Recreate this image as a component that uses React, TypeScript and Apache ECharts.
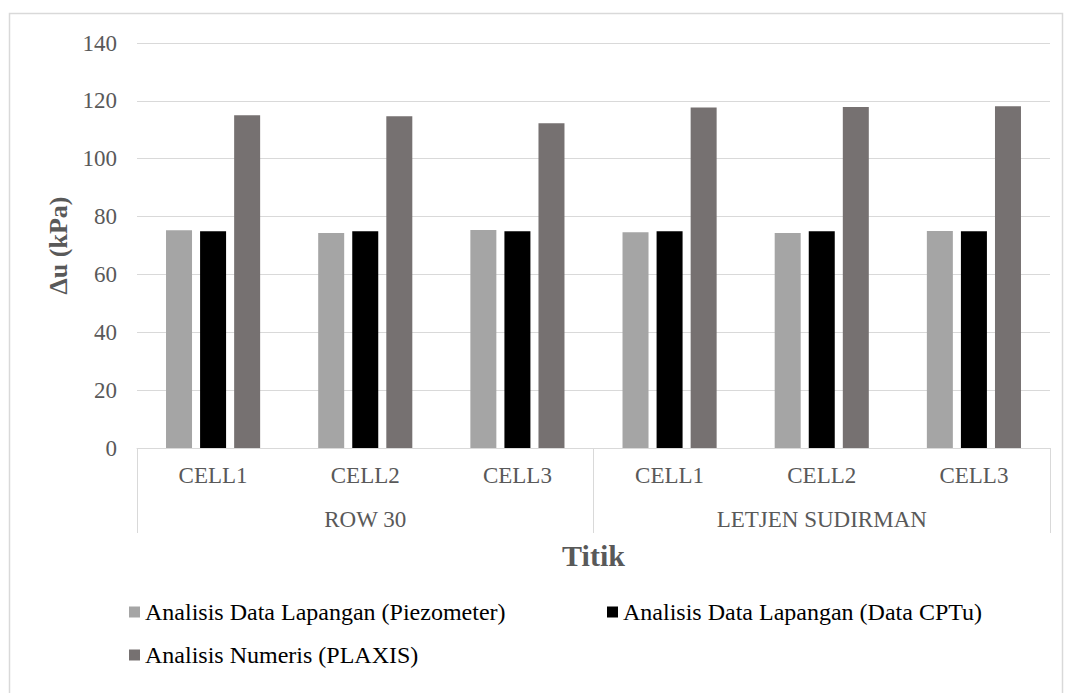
import React, { useEffect, useRef } from "react";
import * as echarts from "echarts";

// Category labels: individual cells, grouped by location
const cells = ["CELL1", "CELL2", "CELL3", "CELL1", "CELL2", "CELL3"];
const groups = ["ROW 30", "LETJEN SUDIRMAN"];

// Excess pore pressure Δu (kPa) per cell
const piezometer = [75.3, 74.3, 75.4, 74.6, 74.3, 75.0];
const cptu = [74.9, 74.9, 74.9, 74.9, 74.9, 74.9];
const plaxis = [115.0, 114.7, 112.3, 117.7, 117.9, 118.1];

const seriesNames = [
  "Analisis Data Lapangan (Piezometer)",
  "Analisis Data Lapangan (Data CPTu)",
  "Analisis Numeris (PLAXIS)",
];
const seriesColors = ["#a5a5a5", "#000000", "#767171"];

const yTicks = { min: 0, max: 140, interval: 20 };

const FONT = "'Liberation Serif', 'Times New Roman', serif";
const GRID_LINE = "#d9d9d9";
const LABEL = "#595959";

export default function App() {
  const ref = useRef<HTMLDivElement>(null);

  useEffect(() => {
    if (!ref.current) return;
    const chart = echarts.init(ref.current, undefined, { renderer: "svg" });

    const legendText = { fontSize: 24, color: "#000", fontFamily: FONT };
    const legendBase = {
      icon: "rect",
      itemWidth: 11,
      itemHeight: 11,
      itemGap: 0,
      selectedMode: false,
      textStyle: legendText,
      padding: 0,
    };

    chart.setOption({
      animation: false,
      backgroundColor: "#ffffff",
      textStyle: { fontFamily: FONT },
      grid: { left: 137, right: 15, top: 43, bottom: 245, containLabel: false },
      legend: [
        { ...legendBase, data: [seriesNames[0]], left: 129, top: 600 },
        { ...legendBase, data: [seriesNames[1]], left: 607, top: 600 },
        { ...legendBase, data: [seriesNames[2]], left: 129, top: 643 },
      ],
      xAxis: [
        {
          type: "category",
          data: cells,
          axisLine: { show: true, lineStyle: { color: GRID_LINE, width: 1 } },
          axisTick: { show: false },
          axisLabel: { fontSize: 23, color: LABEL, fontFamily: FONT, margin: 16 },
        },
        {
          type: "category",
          data: groups,
          position: "bottom",
          axisLine: { show: false },
          axisTick: {
            show: true,
            length: 85,
            lineStyle: { color: GRID_LINE, width: 1 },
          },
          axisLabel: { fontSize: 23, color: LABEL, fontFamily: FONT, margin: 60 },
          name: "Titik",
          nameLocation: "middle",
          nameGap: 92,
          nameTextStyle: {
            fontSize: 30,
            fontWeight: "bold",
            color: LABEL,
            fontFamily: FONT,
          },
        },
      ],
      yAxis: {
        type: "value",
        ...yTicks,
        axisLine: { show: false },
        axisTick: { show: false },
        splitLine: { lineStyle: { color: GRID_LINE, width: 1 } },
        axisLabel: { fontSize: 23, color: LABEL, fontFamily: FONT, margin: 20 },
        name: "Δu (kPa)",
        nameLocation: "middle",
        nameRotate: 90,
        nameGap: 63,
        nameTextStyle: {
          fontSize: 26,
          fontWeight: "bold",
          color: LABEL,
          fontFamily: FONT,
        },
      },
      series: [piezometer, cptu, plaxis].map((data, i) => ({
        name: seriesNames[i],
        type: "bar",
        xAxisIndex: 0,
        data,
        barWidth: 26,
        barGap: "31%",
        itemStyle: { color: seriesColors[i] },
      })),
      graphic: [
        {
          type: "rect",
          shape: { x: 9.5, y: 13.5, width: 1053, height: 700 },
          style: { fill: "none", stroke: GRID_LINE, lineWidth: 1.5 },
          silent: true,
        },
      ],
    });

    return () => chart.dispose();
  }, []);

  return (
    <div
      ref={ref}
      style={{ position: "fixed", left: 0, top: 0, width: 1065, height: 693 }}
    />
  );
}
